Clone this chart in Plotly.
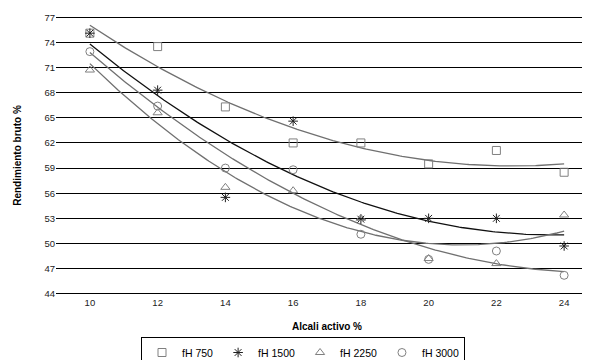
import numpy as np
import plotly.graph_objects as go

x_vals = [10, 12, 14, 16, 18, 20, 22, 24]
fh750 = [75.1, 73.5, 66.3, 62.0, 62.0, 59.5, 61.1, 58.5]
fh1500 = [75.1, 68.3, 55.5, 64.6, 52.9, 53.0, 53.0, 49.7]
fh2250 = [70.7, 65.6, 56.7, 56.3, 53.0, 48.2, 47.6, 53.4]
fh3000 = [72.9, 66.4, 59.0, 58.8, 51.1, 48.1, 49.1, 46.2]
names = ["fH 750", "fH 1500", "fH 2250", "fH 3000"]
y_ticks = [44, 47, 50, 53, 56, 59, 62, 65, 68, 71, 74, 77]

series = [fh750, fh1500, fh2250, fh3000]
symbols = ["square-open", "asterisk-open", "triangle-up-open", "circle-open"]
mcolors = ["#808080", "#202020", "#808080", "#808080"]
lcolors = ["#707070", "#101010", "#707070", "#707070"]

fig = go.Figure()
xs = np.linspace(min(x_vals), max(x_vals), 200)
for s, n, sym, mc, lc in zip(series, names, symbols, mcolors, lcolors):
    coef = np.polyfit(x_vals, s, 2)
    fig.add_trace(go.Scatter(x=xs, y=np.polyval(coef, xs), mode="lines",
                             line=dict(color=lc, width=1.3), showlegend=False,
                             hoverinfo="skip"))
for s, n, sym, mc in zip(series, names, symbols, mcolors):
    fig.add_trace(go.Scatter(x=x_vals, y=s, mode="markers", name=n,
                             marker=dict(symbol=sym, size=8, color=mc,
                                         line=dict(color=mc, width=1))))

fig.update_layout(
    width=590, height=360,
    margin=dict(l=48, r=0, t=8, b=73, autoexpand=False),
    paper_bgcolor="white", plot_bgcolor="white",
    font=dict(family="Liberation Sans, Arial, sans-serif", size=9.5, color="#222"),
    xaxis=dict(range=[9, 25], tickvals=x_vals, showgrid=False, zeroline=False,
               showline=False, ticks="", automargin=False,
               title=dict(text="<b>Alcali activo %</b>", font=dict(size=10, color="#000"),
                          standoff=16)),
    yaxis=dict(range=[43.85, 77.15], tickvals=y_ticks, showgrid=True, gridcolor="#000",
               gridwidth=1, zeroline=False, showline=False, ticks="", automargin=False,
               title=dict(text="<b>Rendimiento bruto %</b>", font=dict(size=10, color="#000"),
                          standoff=20)),
    legend=dict(orientation="h", x=0.5, xanchor="center", xref="container",
                y=0.0, yanchor="bottom", yref="container",
                bordercolor="#000", borderwidth=1, font=dict(size=10.5, color="#000"),
                itemwidth=30, tracegroupgap=0),
)
fig.write_html("out.html")
